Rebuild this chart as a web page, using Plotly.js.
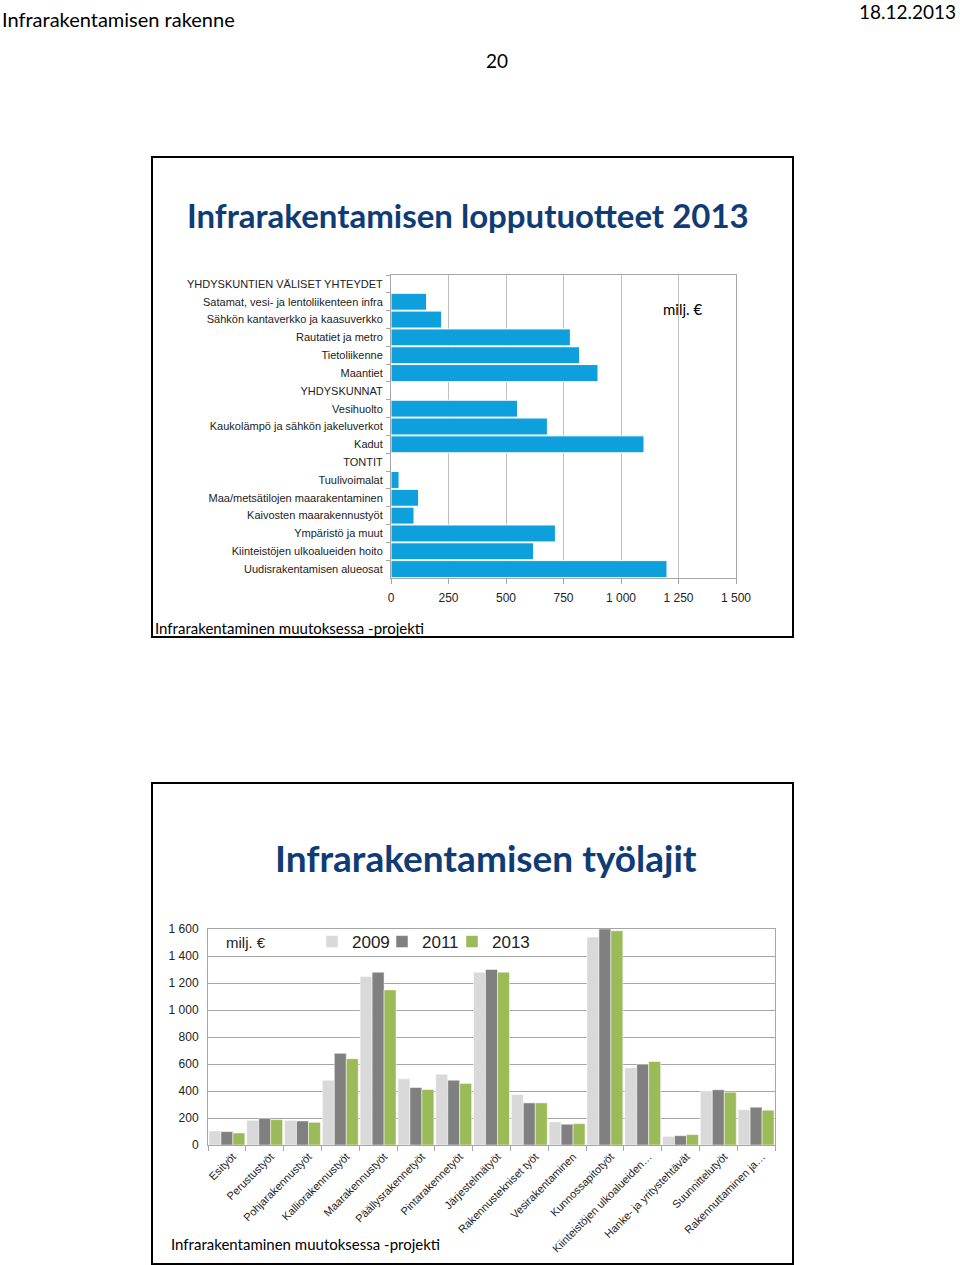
<!DOCTYPE html>
<html>
<head>
<meta charset="utf-8">
<script src="https://cdn.plot.ly/plotly-3.0.1.min.js"></script>
<style>
  html, body { margin: 0; padding: 0; background: #fff; }
  #myDiv { width: 960px; height: 1265px; }
</style>
</head>
<body>
<div id="myDiv"></div>
<script>
// top chart: end products 2013 (milj. €)
var productNames = [
  'YHDYSKUNTIEN VÄLISET YHTEYDET',
  'Satamat, vesi- ja lentoliikenteen infra',
  'Sähkön kantaverkko ja kaasuverkko',
  'Rautatiet ja metro',
  'Tietoliikenne',
  'Maantiet',
  'YHDYSKUNNAT',
  'Vesihuolto',
  'Kaukolämpö ja sähkön jakeluverkot',
  'Kadut',
  'TONTIT',
  'Tuulivoimalat',
  'Maa/metsätilojen maarakentaminen',
  'Kaivosten maarakennustyöt',
  'Ympäristö ja muut',
  'Kiinteistöjen ulkoalueiden hoito',
  'Uudisrakentamisen alueosat'
];
var productValues = [null, 155, 220, 780, 820, 900, null, 550, 680, 1100, null, 35, 120, 100, 715, 620, 1200];

// bottom chart: work types by year (milj. €)
var workTypes = [
  'Esityöt', 'Perustustyöt', 'Pohjarakennustyöt', 'Kalliorakennustyöt', 'Maarakennustyöt',
  'Päällysrakennetyöt', 'Pintarakennetyöt', 'Järjestelmätyöt', 'Rakennustekniset työt',
  'Vesirakentaminen', 'Kunnossapitotyöt', 'Kiinteistöjen ulkoalueiden…',
  'Hanke- ja yritystehtävät', 'Suunnittelutyöt', 'Rakennuttaminen ja…'
];
var years = ['2009', '2011', '2013'];
var values2009 = [104, 183, 183, 480, 1248, 490, 525, 1280, 374, 171, 1540, 572, 64, 401, 262];
var values2011 = [99, 198, 178, 679, 1280, 426, 480, 1300, 312, 154, 1600, 599, 69, 409, 280];
var values2013 = [89, 188, 168, 639, 1149, 411, 456, 1280, 312, 158, 1587, 619, 77, 391, 258];
var yearColors = ['#D9D9D9', '#808080', '#9BBB59'];

var W = 960, H = 1265;
function px(x) { return x / W; }
function py(y) { return 1 - y / H; }

var calibri = 'Lato, "Open Sans", sans-serif';
var arial = '"Liberation Sans", Arial, sans-serif';

var data = [{
  type: 'bar',
  orientation: 'h',
  x: productValues,
  y: productNames,
  xaxis: 'x',
  yaxis: 'y',
  marker: { color: '#0EA0DC', line: { color: '#ffffff', width: 1 } },
  showlegend: false,
  hoverinfo: 'x+y'
}];

// one legend box per year so the entries can sit as tightly as in the original
var legendIds = ['legend', 'legend2', 'legend3'];
var legendX = [312, 382, 452];
var seriesValues = [values2009, values2011, values2013];
for (var i = 0; i < years.length; i++) {
  data.push({
    type: 'bar',
    name: years[i],
    x: workTypes,
    y: seriesValues[i],
    xaxis: 'x2',
    yaxis: 'y2',
    legend: legendIds[i],
    marker: { color: yearColors[i], line: { color: '#ffffff', width: 0.5 } }
  });
}

function legendBox(x) {
  return {
    orientation: 'h',
    x: px(x),
    y: py(942),
    xanchor: 'left',
    yanchor: 'middle',
    bgcolor: 'rgba(0,0,0,0)',
    font: { family: arial, size: 17, color: '#222' },
    itemwidth: 30
  };
}

var layout = {
  width: W,
  height: H,
  margin: { l: 0, r: 0, t: 0, b: 0 },
  paper_bgcolor: '#ffffff',
  plot_bgcolor: '#ffffff',
  separators: ', ',
  barmode: 'group',
  bargap: 0.05,
  bargroupgap: 0,
  font: { family: arial, color: '#222' },
  xaxis: {
    domain: [px(391), px(736)],
    anchor: 'y',
    range: [0, 1500],
    dtick: 250,
    separatethousands: true,
    showgrid: true,
    gridcolor: '#BFBFBF',
    showline: true,
    linecolor: '#A6A6A6',
    mirror: true,
    ticks: 'outside',
    ticklen: 5,
    tickcolor: '#A6A6A6',
    ticklabelstandoff: 4,
    zeroline: false,
    tickfont: { family: arial, size: 12, color: '#222' },
    fixedrange: true
  },
  yaxis: {
    domain: [py(578), py(275)],
    anchor: 'x',
    type: 'category',
    autorange: 'reversed',
    showline: true,
    linecolor: '#A6A6A6',
    mirror: true,
    ticks: 'outside',
    tickson: 'boundaries',
    ticklen: 4,
    tickcolor: '#A6A6A6',
    ticklabelstandoff: 5,
    showgrid: false,
    tickfont: { family: arial, size: 11, color: '#222' },
    fixedrange: true
  },
  xaxis2: {
    domain: [px(208), px(775)],
    anchor: 'y2',
    type: 'category',
    showline: true,
    linecolor: '#A6A6A6',
    mirror: true,
    ticks: 'outside',
    tickson: 'boundaries',
    ticklen: 5,
    tickcolor: '#A6A6A6',
    tickangle: -45,
    ticklabelshift: 6,
    tickfont: { family: arial, size: 11, color: '#222' },
    showgrid: false,
    fixedrange: true
  },
  yaxis2: {
    domain: [py(1145), py(929)],
    anchor: 'x2',
    range: [0, 1600],
    dtick: 200,
    separatethousands: true,
    showgrid: true,
    gridcolor: '#A6A6A6',
    showline: true,
    linecolor: '#A6A6A6',
    mirror: true,
    zeroline: false,
    ticklabelstandoff: 6,
    tickfont: { family: arial, size: 12, color: '#222' },
    fixedrange: true
  },
  showlegend: true,
  legend: legendBox(legendX[0]),
  legend2: legendBox(legendX[1]),
  legend3: legendBox(legendX[2]),
  shapes: [
    { type: 'rect', xref: 'paper', yref: 'paper', x0: px(152), x1: px(793), y0: py(637), y1: py(157),
      line: { color: '#000', width: 2 } },
    { type: 'rect', xref: 'paper', yref: 'paper', x0: px(152), x1: px(793), y0: py(1264), y1: py(783),
      line: { color: '#000', width: 2 } }
  ],
  annotations: [
    { text: 'Infrarakentamisen rakenne', xref: 'paper', yref: 'paper', x: px(0), y: py(19),
      xanchor: 'left', yanchor: 'middle', showarrow: false, font: { family: calibri, size: 20, color: '#000' } },
    { text: '18.12.2013', xref: 'paper', yref: 'paper', x: px(958), y: py(12),
      xanchor: 'right', yanchor: 'middle', showarrow: false, font: { family: calibri, size: 19, color: '#000' } },
    { text: '20', xref: 'paper', yref: 'paper', x: px(497), y: py(61),
      xanchor: 'center', yanchor: 'middle', showarrow: false, font: { family: calibri, size: 19, color: '#000' } },
    { text: '<b>Infrarakentamisen lopputuotteet 2013</b>', xref: 'paper', yref: 'paper', x: px(468), y: py(215),
      xanchor: 'center', yanchor: 'middle', showarrow: false, font: { family: calibri, size: 33, color: '#103C75' } },
    { text: 'milj. €', xref: 'paper', yref: 'paper', x: px(682), y: py(309),
      xanchor: 'center', yanchor: 'middle', showarrow: false, font: { family: calibri, size: 15, color: '#000' } },
    { text: 'Infrarakentaminen muutoksessa -projekti', xref: 'paper', yref: 'paper', x: px(153), y: py(628),
      xanchor: 'left', yanchor: 'middle', showarrow: false, font: { family: calibri, size: 15, color: '#000' } },
    { text: '<b>Infrarakentamisen työlajit</b>', xref: 'paper', yref: 'paper', x: px(486), y: py(857),
      xanchor: 'center', yanchor: 'middle', showarrow: false, font: { family: calibri, size: 37, color: '#103C75' } },
    { text: 'milj. €', xref: 'paper', yref: 'paper', x: px(224), y: py(942),
      xanchor: 'left', yanchor: 'middle', showarrow: false, font: { family: arial, size: 15, color: '#222' } },
    { text: 'Infrarakentaminen muutoksessa -projekti', xref: 'paper', yref: 'paper', x: px(169), y: py(1244),
      xanchor: 'left', yanchor: 'middle', showarrow: false, font: { family: calibri, size: 15, color: '#000' } }
  ]
};

Plotly.newPlot('myDiv', data, layout, { displayModeBar: false, staticPlot: true });
</script>
</body>
</html>
